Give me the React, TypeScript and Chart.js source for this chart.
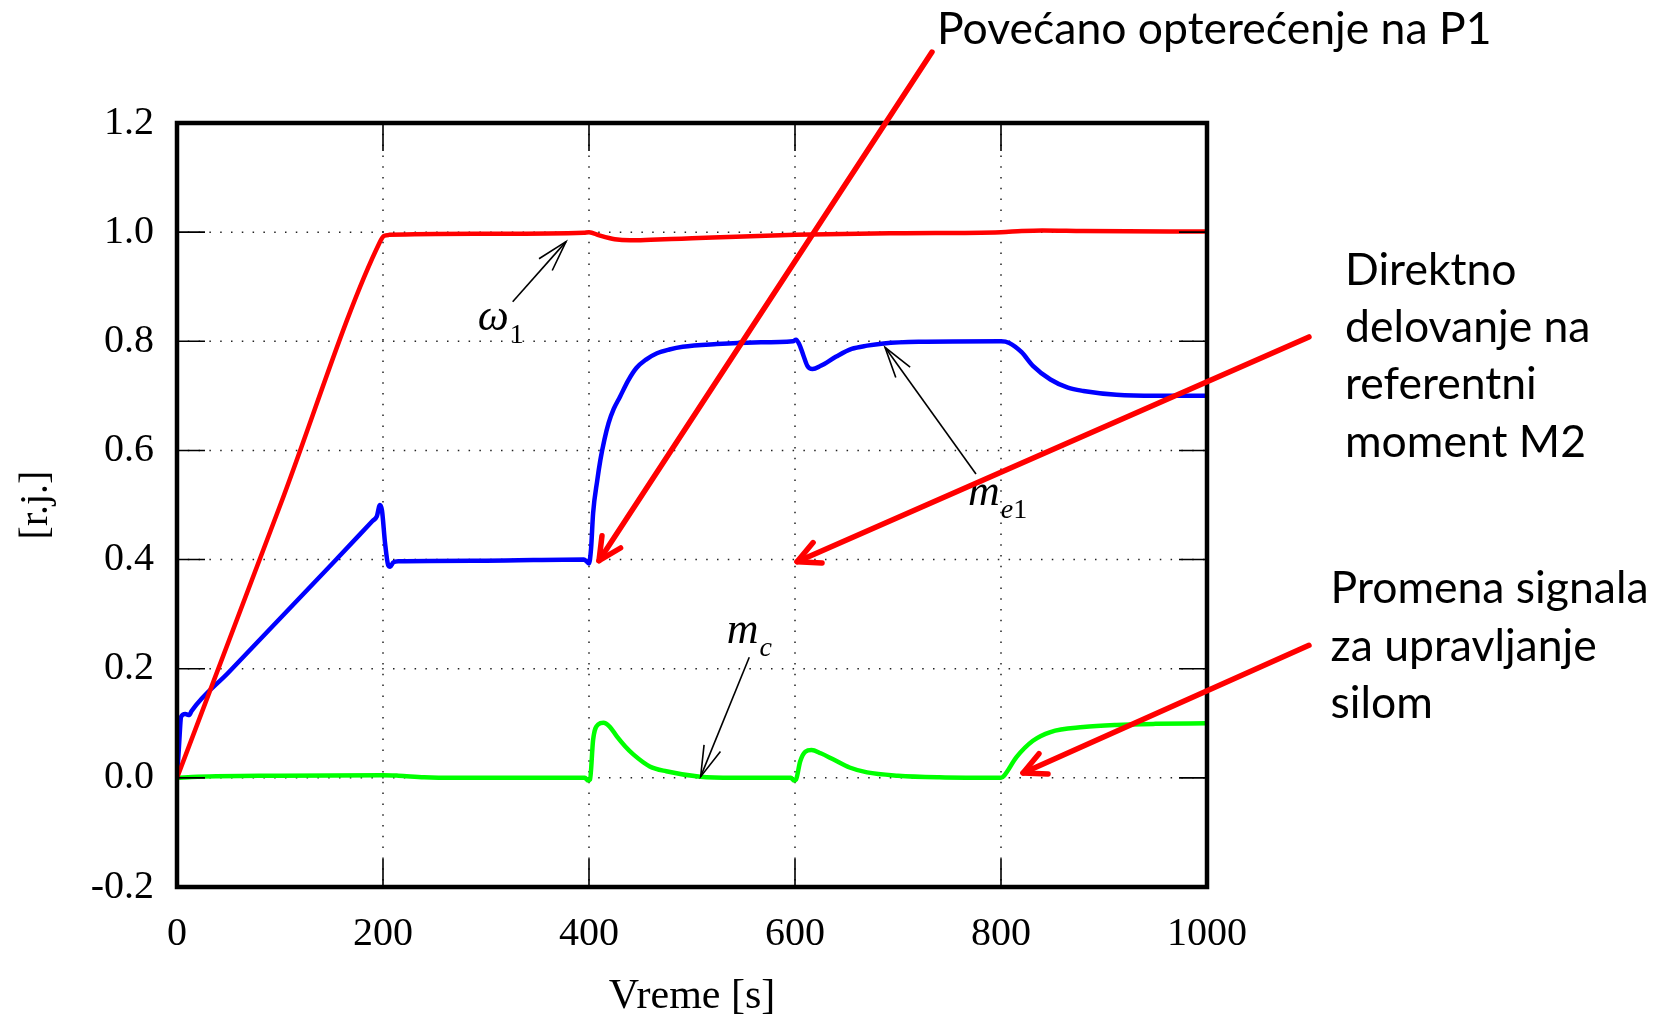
import React, { useEffect, useRef } from 'react';
import { Chart, registerables } from 'chart.js';

Chart.register(...registerables);

// ---------- data ----------
const xTickValues = [0, 200, 400, 600, 800, 1000];
const xTickLabels = ['0', '200', '400', '600', '800', '1000'];
const yTickValues = [-0.2, 0, 0.2, 0.4, 0.6, 0.8, 1.0, 1.2];
const yTickLabels = ['-0.2', '0.0', '0.2', '0.4', '0.6', '0.8', '1.0', '1.2'];

const xTitle = 'Vreme [s]';
const yTitle = '[r.j.]';

// omega_1 (red)
const omegaT = [0, 100, 197, 201, 206, 300, 395, 400, 410, 425, 440, 460, 490, 520, 600, 700, 800, 820, 840, 880, 1000];
const omegaV = [0, 0.4985, 0.982, 0.993, 0.995, 0.997, 0.999, 1.0, 0.994, 0.987, 0.985, 0.986, 0.988, 0.99, 0.995, 0.998, 1.0, 1.002, 1.003, 1.002, 1.001];

// m_e1 (blue)
const meT = [0, 2, 4, 8, 12, 14, 50, 100, 150, 190, 194, 197, 199, 202, 205, 207, 210, 215, 300, 395, 398, 400, 402, 404, 408, 411, 415, 419, 424, 430, 438, 446, 455, 466, 478, 491, 524, 560, 598, 601, 604, 608, 612, 617, 625, 640, 655, 670, 686, 720, 800, 808, 820, 831, 848, 865, 880, 912, 950, 1000];
const meV = [0, 0.06, 0.112, 0.117, 0.115, 0.122, 0.193, 0.292, 0.391, 0.471, 0.479, 0.5, 0.49, 0.43, 0.39, 0.387, 0.395, 0.397, 0.398, 0.4, 0.396, 0.393, 0.42, 0.485, 0.545, 0.582, 0.62, 0.65, 0.676, 0.698, 0.728, 0.751, 0.766, 0.778, 0.785, 0.79, 0.795, 0.798, 0.8, 0.803, 0.795, 0.775, 0.755, 0.749, 0.755, 0.772, 0.786, 0.792, 0.796, 0.799, 0.8, 0.797, 0.78, 0.755, 0.73, 0.715, 0.709, 0.702, 0.7, 0.7];

// m_c (green)
const mcT = [0, 20, 100, 200, 215, 240, 270, 396, 399, 401, 404, 409, 414, 420, 427, 435, 443, 459, 475, 508, 540, 596, 599, 601, 605, 610, 616, 625, 637, 653, 670, 700, 740, 800, 803, 815, 831, 848, 880, 912, 950, 1000];
const mcV = [0, 0.002, 0.004, 0.005, 0.004, 0.001, 0, 0, -0.005, -0.003, 0.07, 0.098, 0.101, 0.094, 0.076, 0.058, 0.043, 0.021, 0.012, 0.002, 0, 0, -0.005, -0.003, 0.03, 0.048, 0.051, 0.045, 0.034, 0.019, 0.01, 0.004, 0.001, 0, 0.004, 0.038, 0.068, 0.084, 0.093, 0.097, 0.099, 0.1];

// annotations (data coordinates)
const redArrowFrom = [[733, 1.33], [1099, 0.808], [1099, 0.243]];
const redArrowTo = [[409.7, 0.398], [602, 0.396], [821.4, 0.009]];

const blackArrowFrom = [[325.9, 0.8725], [775.7, 0.5568], [555.6, 0.2209]];
const blackArrowTo = [[377.7, 0.9826], [687.4, 0.789], [508.4, 0.0022]];

const seriesLabelMain = ['ω', 'm', 'm'];
const seriesLabelSub = [[['1', false]], [['e', true], ['1', false]], [['c', true]]];
const seriesLabelPos = [[291.9, 0.8207], [768, 0.5], [533.7, 0.2476]];

const noteLines = [
  ['Povećano opterećenje na P1'],
  ['Direktno', 'delovanje na', 'referentni', 'moment M2'],
  ['Promena signala', 'za upravljanje', 'silom'],
];
const notePos = [[737.9, 1.3448], [1134, 0.9031], [1120, 0.3198]];

const SERIF = '"Liberation Serif", "Times New Roman", serif';
const SANS = 'Lato, "Open Sans", sans-serif';

const toXY = (t: number[], v: number[]) => t.map((x, i) => ({ x, y: v[i] }));

function drawArrow(ctx: CanvasRenderingContext2D, x1: number, y1: number, x2: number, y2: number, len: number, half: number) {
  const ang = Math.atan2(y1 - y2, x1 - x2);
  ctx.beginPath();
  ctx.moveTo(x1, y1);
  ctx.lineTo(x2, y2);
  ctx.stroke();
  ctx.beginPath();
  ctx.moveTo(x2 + len * Math.cos(ang - half), y2 + len * Math.sin(ang - half));
  ctx.lineTo(x2, y2);
  ctx.lineTo(x2 + len * Math.cos(ang + half), y2 + len * Math.sin(ang + half));
  ctx.stroke();
}

const framePlugin = {
  id: 'framePlugin',
  beforeDatasetsDraw(chart: any) {
    const { ctx, chartArea: a, scales } = chart;
    const xs = scales.x;
    const ys = scales.y;
    ctx.save();
    ctx.strokeStyle = '#222';
    ctx.lineWidth = 1.5;
    ctx.setLineDash([1.5, 9.3]);
    xs.ticks.forEach((t: any) => {
      const px = xs.getPixelForValue(t.value);
      if (px <= a.left + 2 || px >= a.right - 2) return;
      ctx.beginPath();
      ctx.moveTo(px, a.top);
      ctx.lineTo(px, a.bottom);
      ctx.stroke();
    });
    ys.ticks.forEach((t: any) => {
      const py = ys.getPixelForValue(t.value);
      if (py <= a.top + 2 || py >= a.bottom - 2) return;
      ctx.beginPath();
      ctx.moveTo(a.left, py);
      ctx.lineTo(a.right, py);
      ctx.stroke();
    });
    ctx.restore();
  },
  afterDatasetsDraw(chart: any) {
    const { ctx, chartArea: a, scales } = chart;
    const xs = scales.x;
    const ys = scales.y;
    ctx.save();
    ctx.strokeStyle = '#000';
    ctx.lineWidth = 1.6;
    const tl = 28;
    xs.ticks.forEach((t: any) => {
      const px = xs.getPixelForValue(t.value);
      ctx.beginPath();
      ctx.moveTo(px, a.bottom);
      ctx.lineTo(px, a.bottom - tl);
      ctx.moveTo(px, a.top);
      ctx.lineTo(px, a.top + tl);
      ctx.stroke();
    });
    ys.ticks.forEach((t: any) => {
      const py = ys.getPixelForValue(t.value);
      ctx.beginPath();
      ctx.moveTo(a.left, py);
      ctx.lineTo(a.left + tl, py);
      ctx.moveTo(a.right, py);
      ctx.lineTo(a.right - tl, py);
      ctx.stroke();
    });
    ctx.lineWidth = 4.5;
    ctx.lineJoin = 'miter';
    ctx.strokeRect(a.left, a.top, a.right - a.left, a.bottom - a.top);
    ctx.restore();
  },
  afterDraw(chart: any) {
    const { ctx, scales } = chart;
    const xs = scales.x;
    const ys = scales.y;
    const P = (p: number[]) => [xs.getPixelForValue(p[0]), ys.getPixelForValue(p[1])];
    ctx.save();

    // black thin arrows
    ctx.strokeStyle = '#000';
    ctx.lineWidth = 1.6;
    ctx.lineCap = 'butt';
    blackArrowFrom.forEach((f, i) => {
      const [x1, y1] = P(f);
      const [x2, y2] = P(blackArrowTo[i]);
      drawArrow(ctx, x1, y1, x2, y2, 32, 0.28);
    });

    // series labels
    ctx.fillStyle = '#000';
    ctx.textBaseline = 'alphabetic';
    ctx.textAlign = 'left';
    seriesLabelMain.forEach((m, i) => {
      const [x, y] = P(seriesLabelPos[i]);
      ctx.font = `italic 44px ${SERIF}`;
      ctx.fillText(m, x, y);
      let cx = x + ctx.measureText(m).width + 1;
      seriesLabelSub[i].forEach(([s, it]) => {
        ctx.font = `${it ? 'italic ' : ''}28px ${SERIF}`;
        ctx.fillText(s as string, cx, y + 13);
        cx += ctx.measureText(s as string).width;
      });
    });

    // red arrows
    ctx.strokeStyle = '#ff0000';
    ctx.lineWidth = 5.5;
    ctx.lineCap = 'round';
    ctx.lineJoin = 'round';
    redArrowFrom.forEach((f, i) => {
      const [x1, y1] = P(f);
      const [x2, y2] = P(redArrowTo[i]);
      drawArrow(ctx, x1, y1, x2, y2, 25, 0.46);
    });

    // notes
    ctx.fillStyle = '#000';
    ctx.font = `44.5px ${SANS}`;
    noteLines.forEach((lines, i) => {
      const [x, y] = P(notePos[i]);
      lines.forEach((ln, j) => ctx.fillText(ln, x, y + j * 57.2));
    });
    ctx.restore();
  },
};

export default function App() {
  const ref = useRef<HTMLCanvasElement | null>(null);
  useEffect(() => {
    if (!ref.current) return;
    const common = { borderWidth: 4.5, pointRadius: 0, cubicInterpolationMode: 'monotone', fill: false, borderJoinStyle: 'round', borderCapStyle: 'round' };
    const chart = new Chart(ref.current, {
      type: 'line',
      data: {
        datasets: [
          { label: 'ω1', data: toXY(omegaT, omegaV), borderColor: '#ff0000', ...common },
          { label: 'me1', data: toXY(meT, meV), borderColor: '#0000ff', ...common },
          { label: 'mc', data: toXY(mcT, mcV), borderColor: '#00ff00', ...common },
        ],
      },
      options: {
        responsive: false,
        animation: false,
        devicePixelRatio: 1,
        layout: { padding: { left: 0, top: 123, right: 457, bottom: 0 } },
        plugins: { legend: { display: false }, tooltip: { enabled: false } },
        scales: {
          x: {
            type: 'linear',
            min: 0,
            max: 1000,
            afterBuildTicks: (s: any) => { s.ticks = xTickValues.map((v) => ({ value: v })); },
            afterFit: (s: any) => { s.height = 127; },
            ticks: {
              callback: (_v: any, i: number) => xTickLabels[i],
              font: { family: SERIF, size: 40 },
              color: '#000',
              padding: 23,
              maxRotation: 0,
              autoSkip: false,
            },
            grid: { display: false, drawTicks: false },
            border: { display: false },
            title: { display: true, text: xTitle, color: '#000', font: { family: SERIF, size: 42 }, padding: { top: 0, bottom: -8 } },
          },
          y: {
            type: 'linear',
            min: -0.2,
            max: 1.2,
            afterBuildTicks: (s: any) => { s.ticks = yTickValues.map((v) => ({ value: v })); },
            afterFit: (s: any) => { s.width = 177; },
            ticks: {
              callback: (_v: any, i: number) => yTickLabels[i],
              font: { family: SERIF, size: 40 },
              color: '#000',
              padding: 23,
              autoSkip: false,
            },
            grid: { display: false, drawTicks: false },
            border: { display: false },
            title: { display: true, text: yTitle, color: '#000', font: { family: SERIF, size: 40 }, padding: { top: 12, bottom: 0 } },
          },
        },
      },
      plugins: [framePlugin],
    } as any);
    return () => chart.destroy();
  }, []);
  return (
    <div style={{ position: 'fixed', left: 0, top: 0, width: 1664, height: 1014, background: '#fff' }}>
      <canvas ref={ref} width={1664} height={1014} style={{ display: 'block' }} />
    </div>
  );
}
